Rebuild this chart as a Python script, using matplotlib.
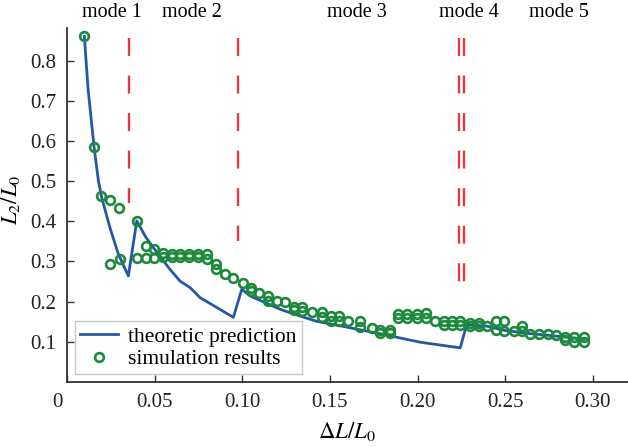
import matplotlib
matplotlib.use("Agg")
import matplotlib.pyplot as plt
import matplotlib.transforms as mtransforms

plt.rcParams['font.family'] = ['Liberation Serif', 'DejaVu Serif']
plt.rcParams['mathtext.fontset'] = 'stix'
plt.rcParams['font.size'] = 14

# theoretic prediction
theory_x = [0.0099, 0.0120, 0.0154, 0.0179, 0.0198, 0.0245, 0.0293, 0.0350,
            0.0398, 0.0450, 0.0493, 0.0588, 0.0645, 0.0702, 0.0759, 0.0949,
            0.0997, 0.1045, 0.1216, 0.1330, 0.1425, 0.1580, 0.1820, 0.2015, 0.2243,
            0.2280, 0.2396, 0.2500, 0.2650, 0.2795, 0.2950]
theory_y = [0.860, 0.730, 0.586, 0.501, 0.459, 0.384, 0.318, 0.264,
            0.401, 0.360, 0.334, 0.280, 0.251, 0.235, 0.210, 0.161,
            0.231, 0.214, 0.181, 0.164, 0.151, 0.138, 0.117, 0.099, 0.085,
            0.143, 0.139, 0.128, 0.120, 0.114, 0.107]

# simulation results
sim_x = [0.0099, 0.0154, 0.0194, 0.0245, 0.0297, 0.0245, 0.0303, 0.0398, 0.0398,
         0.0449, 0.0449, 0.0497, 0.0497, 0.0550, 0.0550, 0.0598, 0.0598,
         0.0645, 0.0645, 0.0698, 0.0698, 0.0750, 0.0750, 0.0797, 0.0797,
         0.0850, 0.0850, 0.0902, 0.0949, 0.1002, 0.1048, 0.1048, 0.1098,
         0.1149, 0.1149, 0.1197, 0.1244, 0.1292, 0.1292, 0.1340, 0.1340,
         0.1400, 0.1453, 0.1453, 0.1505, 0.1505, 0.1554, 0.1554, 0.1600,
         0.1672, 0.1672, 0.1739, 0.1787, 0.1787, 0.1840, 0.1840,
         0.1890, 0.1890, 0.1940, 0.1940, 0.1996, 0.1996, 0.2050, 0.2050,
         0.2100, 0.2148, 0.2148, 0.2196, 0.2196, 0.2243, 0.2243,
         0.2300, 0.2300, 0.2348, 0.2348, 0.2396, 0.2449, 0.2449, 0.2494, 0.2494,
         0.2548, 0.2595, 0.2595, 0.2642, 0.2690, 0.2741, 0.2790,
         0.2842, 0.2842, 0.2894, 0.2894, 0.2947, 0.2947]
sim_y = [0.860, 0.586, 0.462, 0.453, 0.433, 0.293, 0.307, 0.401, 0.309,
         0.309, 0.339, 0.330, 0.309, 0.320, 0.312, 0.318, 0.310,
         0.318, 0.310, 0.318, 0.310, 0.318, 0.310, 0.318, 0.306,
         0.293, 0.280, 0.270, 0.260, 0.247, 0.235, 0.226, 0.222,
         0.214, 0.201, 0.201, 0.200, 0.186, 0.178, 0.186, 0.176,
         0.174, 0.174, 0.161, 0.164, 0.153, 0.164, 0.153, 0.151,
         0.151, 0.136, 0.135, 0.130, 0.122, 0.130, 0.122,
         0.168, 0.160, 0.169, 0.160, 0.169, 0.160, 0.172, 0.160,
         0.153, 0.153, 0.143, 0.153, 0.143, 0.153, 0.143,
         0.147, 0.139, 0.147, 0.139, 0.139, 0.153, 0.130, 0.153, 0.126,
         0.126, 0.139, 0.126, 0.120, 0.120, 0.120, 0.118,
         0.112, 0.104, 0.113, 0.100, 0.113, 0.100]

# mode boundaries (dashed) and labels
bound_x = [0.0354, 0.0974, 0.2237, 0.2262]
bound_top = [0.855, 0.855, 0.855, 0.855]
bound_bot = [0.445, 0.350, 0.210, 0.210]
mode_labels = ['mode 1', 'mode 2', 'mode 3', 'mode 4', 'mode 5']
mode_x = [0.0257, 0.0713, 0.1655, 0.2295, 0.2808]

blue = '#2558a8'
green = '#1b8a3a'
red = '#e43a3f'

fig = plt.figure(figsize=(6.28, 4.47), dpi=100)
ax = fig.add_axes([0.1067, 0.1454, 0.8933, 0.792])

for xb, yt, yb in zip(bound_x, bound_top, bound_bot):
    ax.plot([xb, xb], [yt, yb], color=red, lw=1.7, linestyle=(0, (7.6, 8.3)))

ax.plot(theory_x, theory_y, color=blue, lw=2.0, label='theoretic prediction', zorder=3)
ax.plot(sim_x, sim_y, linestyle='none', marker='o', ms=6.3, mew=1.9,
        mfc='none', mec=green, label='simulation results', zorder=4)

for lab, xm in zip(mode_labels, mode_x):
    ax.text(xm, 0.919, lab, ha='center', va='center', fontsize=14.5, clip_on=False)

ax.set_xlim(0, 0.32)
ax.set_ylim(0, 0.881)
ax.set_xticks([0, 0.05, 0.10, 0.15, 0.20, 0.25, 0.30])
ax.set_xticklabels(['0', '0.05', '0.10', '0.15', '0.20', '0.25', '0.30'])
ax.set_yticks([0.1, 0.2, 0.3, 0.4, 0.5, 0.6, 0.7, 0.8])
ax.set_yticklabels(['0.1', '0.2', '0.3', '0.4', '0.5', '0.6', '0.7', '0.8'])
ax.tick_params(direction='in', length=5, width=1, colors='#333333', labelcolor='#222222',
               labelsize=15, pad=8)
# the zero label sits left of the spine
lab0 = ax.get_xticklabels()[0]
lab0.set_transform(lab0.get_transform() + mtransforms.ScaledTranslation(-10/100, 0, fig.dpi_scale_trans))

for s in ['top', 'right']:
    ax.spines[s].set_visible(False)
for s in ['left', 'bottom']:
    ax.spines[s].set_color('#333333')
    ax.spines[s].set_linewidth(1.3)

ax.set_xlabel(r'$\Delta L/L_0$', fontsize=16.5)
ax.set_ylabel(r'$L_2/L_0$', fontsize=16.5)
ax.xaxis.set_label_coords(0.499, -0.107)
ax.yaxis.set_label_coords(-0.081, 0.514)

leg = ax.legend(loc='lower left', fontsize=15.5, frameon=True, fancybox=False,
                borderaxespad=0.35, handlelength=1.75, handletextpad=0.5,
                borderpad=0.25, labelspacing=0.1, framealpha=1)
leg.get_frame().set_edgecolor('#c8c8c8')
leg.get_frame().set_linewidth(1.0)

fig.savefig('out.png', dpi=100)
